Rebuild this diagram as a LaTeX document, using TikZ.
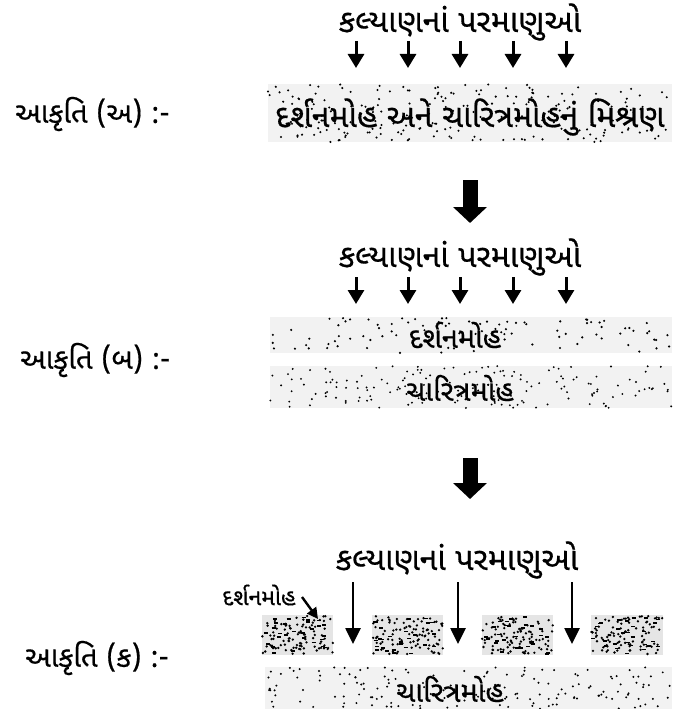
\documentclass[tikz,border=0pt]{standalone}
\usepackage{fontspec}
\newfontfamily\guj[Script=Gujarati,FakeBold=0.5]{Noto Sans Gujarati UI}
\usetikzlibrary{arrows.meta}
\newcommand\stip[6]{%
  \foreach \k in {1,...,#5}{%
    \pgfmathsetmacro\xx{#1+rnd*(#3-#1)}%
    \pgfmathsetmacro\yy{#2+rnd*(#4-#2)}%
    \fill (\xx,\yy) circle[radius=#6];}}
\newcommand\dashes[5]{%
  \foreach \k in {1,...,#5}{%
    \pgfmathsetmacro\xx{#1+rnd*(#3-#1-5)}%
    \pgfmathsetmacro\yy{#2+rnd*(#4-#2)}%
    \draw[line width=1.6pt] (\xx,\yy) -- ++(4,0);}}
\tikzset{
  title/.style={font=\guj\fontsize{32}{36}\selectfont, inner sep=0pt},
  fig/.style={font=\guj\fontsize{29}{33}\selectfont, inner sep=0pt, anchor=west},
  bandtext/.style={font=\guj\fontsize{29}{33}\selectfont, inner sep=0pt},
  smallarrow/.style={line width=3pt, -{Triangle[length=14pt,width=16pt]}},
  longarrow/.style={line width=2.6pt, -{Triangle[length=16pt,width=15pt]}},
  bigarrow/.style={line width=15pt, -{Triangle[length=16pt,width=33pt]}},
  bandfill/.style={fill=black!5},
  densefill/.style={fill=black!10},
}
\begin{document}
\begin{tikzpicture}[x=1pt,y=-1pt]
\useasboundingbox (0,0) rectangle (672,709);
\pgfmathsetseed{7}
% ---------- figure A ----------
\node[title] (t1) at (460,22) {કલ્યાણનાં પરમાણુઓ};
\foreach \x [count=\i] in {356,408,460,513,566}{
  \coordinate (a\i) at (\x,41);
  \coordinate (b\i) at (\x,68);
  \draw[smallarrow] (a\i) -- (b\i);
}
\fill[bandfill] (268,84) rectangle (672,142);
\stip{268}{84}{672}{142}{210}{1.15pt}
\node[title, fill=none] (bandA) at (470,117) {દર્શનમોહ અને ચારિત્રમોહનું મિશ્રણ};
\node[fig] (labA) at (15,114) {આકૃતિ (અ) :-};
% ---------- big arrow 1 ----------
\coordinate (g1) at (470,180);
\coordinate (h1) at (470,223);
\draw[bigarrow] (g1) -- (h1);
% ---------- figure B ----------
\node[title] (t2) at (460,257) {કલ્યાણનાં પરમાણુઓ};
\foreach \x [count=\i] in {356,408,460,513,566}{
  \coordinate (c\i) at (\x,277);
  \coordinate (d\i) at (\x,304);
  \draw[smallarrow] (c\i) -- (d\i);
}
\fill[bandfill] (270,317) rectangle (672,353);
\stip{270}{317}{672}{353}{95}{1.2pt}
\node[bandtext] (bandB1) at (455,335) {દર્શનમોહ};
\fill[bandfill] (270,366) rectangle (672,408);
\stip{270}{366}{672}{408}{170}{1.05pt}
\node[bandtext] (bandB2) at (460,388) {ચારિત્રમોહ};
\node[fig] (labB) at (20,360) {આકૃતિ (બ) :-};
% ---------- big arrow 2 ----------
\coordinate (g2) at (470,458);
\coordinate (h2) at (470,499);
\draw[bigarrow] (g2) -- (h2);
% ---------- figure C ----------
\node[title] (t3) at (457,560) {કલ્યાણનાં પરમાણુઓ};
\foreach \a/\b [count=\i] in {262/333,372/443,482/553,591/663}{
  \fill[densefill] (\a,615) rectangle (\b,655);
  \stip{\a}{616}{\b}{654}{95}{1.3pt}
  \dashes{\a}{616}{\b}{654}{28}
}
\coordinate (blktop) at (318,619);
\foreach \x [count=\i] in {353,458,572}{
  \coordinate (e\i) at (\x,582);
  \coordinate (f\i) at (\x,644);
  \draw[longarrow] (e\i) -- (f\i);
}
\node[font=\guj\fontsize{23}{26}\selectfont, inner sep=0pt] (dlab) at (259,595) {દર્શનમોહ};
\coordinate (dl) at (302,597);
\draw[line width=2.4pt, -{Triangle[length=11pt,width=11pt]}] (dl) -- (blktop);
\fill[bandfill] (265,667) rectangle (672,709);
\stip{265}{667}{672}{709}{170}{1.1pt}
\node[bandtext] (bandC) at (450,689) {ચારિત્રમોહ};
\node[fig] (labC) at (25,658) {આકૃતિ (ક) :-};
\end{tikzpicture}
\end{document}
